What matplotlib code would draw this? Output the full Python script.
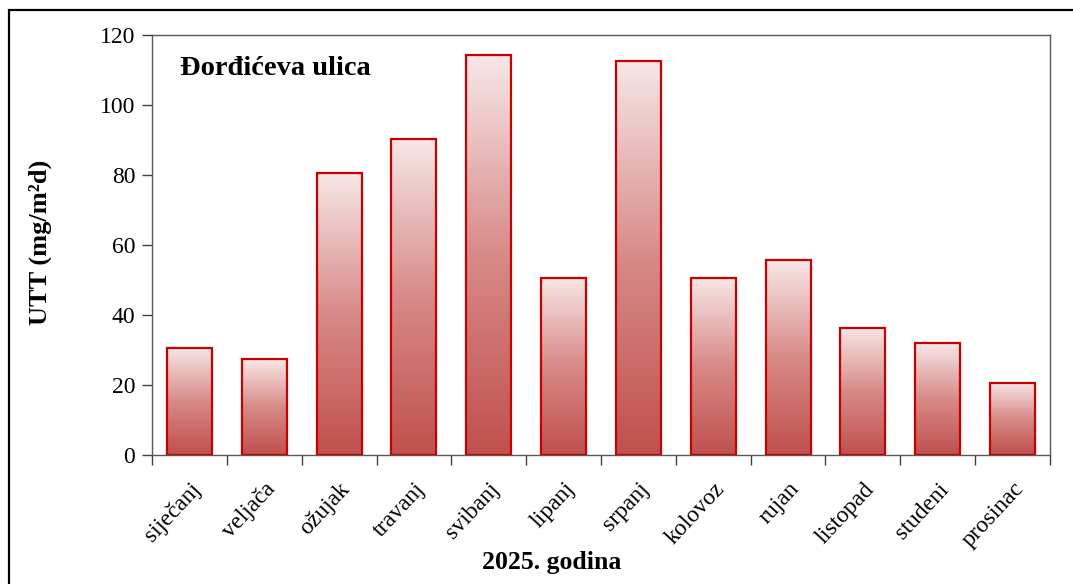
import numpy as np
import matplotlib
matplotlib.use("Agg")
import matplotlib.pyplot as plt
from matplotlib.colors import LinearSegmentedColormap
from matplotlib.patches import Rectangle

months = ["siječanj", "veljača", "ožujak", "travanj", "svibanj", "lipanj",
          "srpanj", "kolovoz", "rujan", "listopad", "studeni", "prosinac"]
utt = [30.6, 27.4, 80.6, 90.3, 114.2, 50.6, 112.6, 50.6, 55.7, 36.3, 32.0, 20.6]
yticks = [0, 20, 40, 60, 80, 100, 120]
title = "Đorđićeva ulica"
ylabel = "UTT (mg/m²d)"
xlabel = "2025. godina"

plt.rcParams['font.family'] = ['Liberation Serif', 'DejaVu Serif']

fig = plt.figure(figsize=(10.73, 5.84), dpi=100)
ax = fig.add_axes([152/1073, 1-455/584, (1050-152)/1073, (455-35)/584])

x = np.arange(len(months))
bars = ax.bar(x, utt, width=0.6, facecolor='none', edgecolor='#c80000',
              linewidth=1.6, zorder=3)

cmap = LinearSegmentedColormap.from_list("grad", ["#c0504d", "#d88a88", "#f7e7e7"])
grad = np.linspace(0, 1, 256).reshape(-1, 1)
for b in bars:
    x0, w, h = b.get_x(), b.get_width(), b.get_height()
    im = ax.imshow(grad, cmap=cmap, origin='lower', aspect='auto',
                   extent=(x0, x0 + w, 0, h), zorder=2, interpolation='bicubic')
    im.set_clip_path(b)

ax.set_xlim(-0.5, len(months) - 0.5)
ax.set_ylim(0, 120)
ax.set_yticks(yticks)
ax.set_xticks(x)
ax.set_xticklabels(months, rotation=47, ha='right', rotation_mode='anchor')
ax.set_xticks(np.arange(len(months) + 1) - 0.5, minor=True)
ax.tick_params(axis='x', which='major', length=0, pad=17, labelsize=17)
ax.tick_params(axis='x', which='minor', length=7, width=1.0, color='#404040', direction='out')
ax.tick_params(axis='y', length=7, width=1.0, color='#404040', direction='out', labelsize=17, pad=5)

for s in ax.spines.values():
    s.set_color('#595959')
    s.set_linewidth(1.0)

ax.text(0.031, 0.921, title, transform=ax.transAxes, fontsize=20.5,
        fontweight='bold', ha='left', va='center')
fig.text(40/1073, 1-242/584, ylabel, rotation=90, fontsize=19,
         fontweight='bold', ha='center', va='center')
fig.text(552/1073, 1-563/584, xlabel, fontsize=18.5,
         fontweight='bold', ha='center', va='center')

border = Rectangle((9/1073, -0.1), 1.2, (584-10)/584 + 0.1, transform=fig.transFigure,
                   fill=False, edgecolor='black', linewidth=1.6, clip_on=False)
fig.patches.append(border)

fig.savefig("out.png", dpi=100)
